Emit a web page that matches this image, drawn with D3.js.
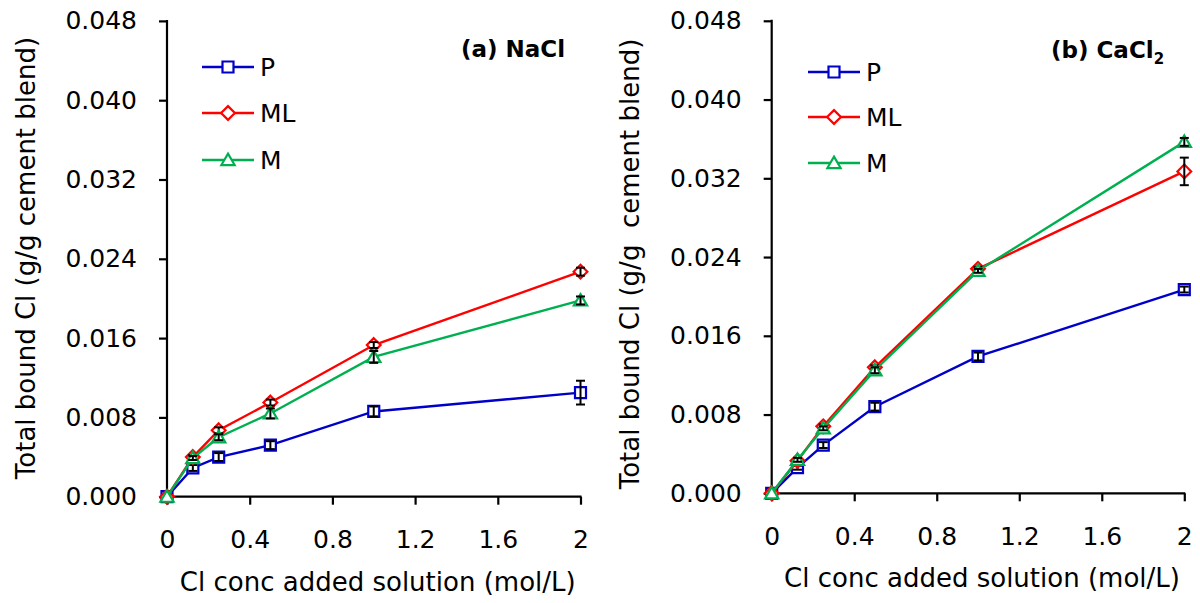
<!DOCTYPE html>
<html>
<head>
<meta charset="utf-8">
<script src="https://cdn.jsdelivr.net/npm/d3@7"></script>
<style>
  html, body { margin: 0; padding: 0; background: #fff; }
  svg { display: block; }
  text { font-family: "DejaVu Sans", sans-serif; fill: #000; }
</style>
</head>
<body>
<svg id="chart" width="1200" height="603"></svg>
<script>
// Cl concentration of the added solution (mol/L)
const conc = [0, 0.125, 0.25, 0.5, 1, 2];

// Series names
const mixes = ["P", "ML", "M"];

// (a) NaCl — total bound Cl (g/g cement blend) and standard deviations
const naclP  = [0, 0.0029, 0.0040, 0.0052, 0.0086, 0.0105];
const naclML = [0, 0.0040, 0.0067, 0.0095, 0.0153, 0.0227];
const naclM  = [0, 0.0039, 0.0060, 0.0084, 0.0141, 0.0198];
const naclPErr  = [0, 0.0003, 0.0004, 0.0004, 0.0005, 0.0012];
const naclMLErr = [0, 0.0002, 0.0003, 0.0003, 0.0003, 0.0004];
const naclMErr  = [0, 0.0002, 0.0003, 0.0005, 0.0006, 0.0004];

// (b) CaCl2 — total bound Cl (g/g cement blend) and standard deviations
const caclP  = [0, 0.0026, 0.0049, 0.0088, 0.0139, 0.0207];
const caclML = [0, 0.0033, 0.0068, 0.0128, 0.0228, 0.0327];
const caclM  = [0, 0.0034, 0.0066, 0.0125, 0.0226, 0.0357];
const caclPErr  = [0, 0.0002, 0.0003, 0.0004, 0.0004, 0.0003];
const caclMLErr = [0, 0.0002, 0.0002, 0.0002, 0.0002, 0.0014];
const caclMErr  = [0, 0.0002, 0.0002, 0.0003, 0.0002, 0.0004];

// Axis ticks
const xTicks = [0, 0.4, 0.8, 1.2, 1.6, 2];
const yTicks = [0, 0.008, 0.016, 0.024, 0.032, 0.040, 0.048];

const colors = { P: "#0000c8", ML: "#ff0000", M: "#00b050" };
const shapes = { P: "square", ML: "diamond", M: "triangle" };

const svg = d3.select("#chart");

function markerPath(shape, s) {
  if (shape === "square") {
    return `M${-s},${-s}H${s}V${s}H${-s}Z`;
  }
  if (shape === "diamond") {
    const d = s * 1.25;
    return `M0,${-d}L${d},0L0,${d}L${-d},0Z`;
  }
  // triangle
  const h = s * 1.15;
  return `M0,${-h}L${h * 1.05},${h * 0.8}L${-h * 1.05},${h * 0.8}Z`;
}

function drawPanel(cfg) {
  const g = svg.append("g");
  const x = d3.scaleLinear().domain([0, 2]).range([cfg.x0, cfg.x1]);
  const y = d3.scaleLinear().domain([0, 0.048]).range([cfg.y0, cfg.y1]);

  // y axis
  const yAxis = g.append("g")
    .attr("transform", `translate(${cfg.x0},0)`)
    .call(d3.axisLeft(y).tickValues(yTicks).tickFormat(d3.format(".3f"))
      .tickSize(8).tickPadding(22));
  yAxis.select(".domain").attr("stroke", "#000").attr("stroke-width", 2.2)
    .attr("d", `M0,${cfg.y1 - 1}V${cfg.y0}`);
  yAxis.selectAll(".tick line").attr("stroke", "#000").attr("stroke-width", 2.2);
  yAxis.selectAll(".tick text").attr("font-size", 25)
    .style("font-family", "DejaVu Sans").attr("fill", "#000");

  // x axis
  const xAxis = g.append("g")
    .attr("transform", `translate(0,${cfg.y0})`)
    .call(d3.axisBottom(x).tickValues(xTicks).tickFormat(d => d3.format("")(d))
      .tickSize(8).tickPadding(26));
  xAxis.select(".domain").attr("stroke", "#000").attr("stroke-width", 2.2)
    .attr("d", `M${cfg.x0},0H${cfg.x1 + 1}`);
  xAxis.selectAll(".tick line").attr("stroke", "#000").attr("stroke-width", 2.2);
  xAxis.selectAll(".tick text").attr("font-size", 25)
    .style("font-family", "DejaVu Sans").attr("fill", "#000");

  // axis titles
  g.append("text")
    .attr("x", (cfg.x0 + cfg.x1) / 2 + 4)
    .attr("y", cfg.y0 + 94)
    .attr("text-anchor", "middle")
    .attr("font-size", 26)
    .text("Cl conc added solution (mol/L)");

  g.append("text")
    .attr("transform", `translate(${cfg.yTitleX},${cfg.yTitleY}) rotate(-90)`)
    .attr("text-anchor", "middle")
    .attr("font-size", 26)
    .style("white-space", "pre")
    .text(cfg.yTitle);

  // series lines, markers and error bars
  cfg.series.forEach(s => {
    const pts = conc.map((c, i) => ({ c, v: s.values[i], e: s.err[i] }));
    const line = d3.line().x(d => x(d.c)).y(d => y(d.v));
    g.append("path")
      .datum(pts)
      .attr("d", line)
      .attr("fill", "none")
      .attr("stroke", colors[s.name])
      .attr("stroke-width", 2.4);

    g.append("g").selectAll("path")
      .data(pts)
      .join("path")
      .attr("transform", d => `translate(${x(d.c)},${y(d.v)})`)
      .attr("d", markerPath(shapes[s.name], 5.5))
      .attr("fill", "#fff")
      .attr("stroke", colors[s.name])
      .attr("stroke-width", 2.2);

    const eb = g.append("g").attr("stroke", "#000").attr("stroke-width", 2);
    pts.filter(d => d.e > 0).forEach(d => {
      const cx = x(d.c), top = y(d.v + d.e), bot = y(d.v - d.e);
      eb.append("line").attr("x1", cx).attr("x2", cx).attr("y1", top).attr("y2", bot);
      eb.append("line").attr("x1", cx - 4.5).attr("x2", cx + 4.5).attr("y1", top).attr("y2", top);
      eb.append("line").attr("x1", cx - 4.5).attr("x2", cx + 4.5).attr("y1", bot).attr("y2", bot);
    });
  });

  // legend
  const lg = g.append("g");
  cfg.series.forEach((s, i) => {
    const ly = cfg.legendY[i];
    lg.append("line")
      .attr("x1", cfg.legendX).attr("x2", cfg.legendX + 52)
      .attr("y1", ly).attr("y2", ly)
      .attr("stroke", colors[s.name]).attr("stroke-width", 2.4);
    lg.append("path")
      .attr("transform", `translate(${cfg.legendX + 26},${ly})`)
      .attr("d", markerPath(shapes[s.name], 5.5))
      .attr("fill", "#fff")
      .attr("stroke", colors[s.name])
      .attr("stroke-width", 2.2);
    lg.append("text")
      .attr("x", cfg.legendX + 58)
      .attr("y", ly + 9)
      .attr("font-size", 25)
      .text(s.name);
  });

  // panel title
  const t = g.append("text")
    .attr("x", cfg.titleX)
    .attr("y", cfg.titleY)
    .attr("font-size", 23)
    .attr("font-weight", "bold");
  t.append("tspan").text(cfg.title);
  if (cfg.titleSub) {
    t.append("tspan").attr("font-size", 15).attr("dy", 6).text(cfg.titleSub);
  }
}

drawPanel({
  x0: 167, x1: 580.5, y0: 496.7, y1: 20.9,
  yTitle: "Total bound Cl (g/g cement blend)",
  yTitleX: 35, yTitleY: 258,
  legendX: 202, legendY: [67, 113, 160],
  title: "(a) NaCl", titleX: 461, titleY: 57,
  series: [
    { name: "P", values: naclP, err: naclPErr },
    { name: "ML", values: naclML, err: naclMLErr },
    { name: "M", values: naclM, err: naclMErr }
  ]
});

drawPanel({
  x0: 771.7, x1: 1184.3, y0: 493.3, y1: 20.8,
  yTitle: "Total bound Cl (g/g  cement blend)",
  yTitleX: 639, yTitleY: 264,
  legendX: 808, legendY: [72, 117, 163],
  title: "(b) CaCl", titleSub: "2", titleX: 1051, titleY: 58,
  series: [
    { name: "P", values: caclP, err: caclPErr },
    { name: "ML", values: caclML, err: caclMLErr },
    { name: "M", values: caclM, err: caclMErr }
  ]
});
</script>
</body>
</html>
